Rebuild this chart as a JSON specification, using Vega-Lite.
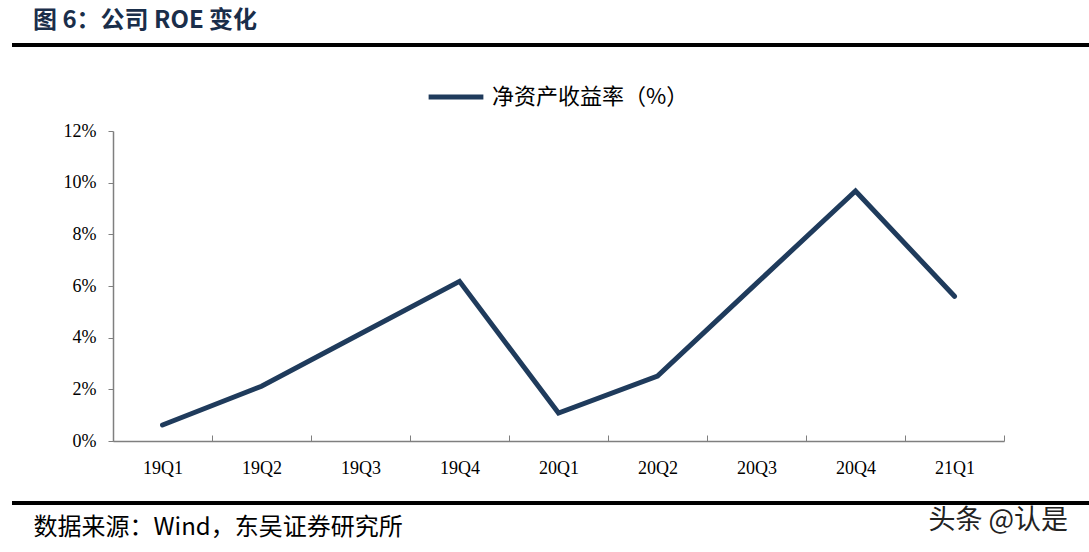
{
  "$schema": "https://vega.github.io/schema/vega-lite/v6.json",
  "autosize": "none",
  "width": 891,
  "height": 310,
  "padding": {"left": 113, "top": 131, "right": 85, "bottom": 111},
  "background": "white",
  "title": {
    "text": "图 6：公司 ROE 变化",
    "anchor": "start",
    "frame": "group",
    "dx": -80,
    "offset": 11,
    "font": "Noto Sans CJK SC",
    "fontSize": 24,
    "fontWeight": "bold",
    "color": "#1a2e4a"
  },
  "data": {
    "values": [
      {"quarter": "19Q1", "roe": 0.0062, "series": "净资产收益率（%）"},
      {"quarter": "19Q2", "roe": 0.0212, "series": "净资产收益率（%）"},
      {"quarter": "19Q3", "roe": 0.0415, "series": "净资产收益率（%）"},
      {"quarter": "19Q4", "roe": 0.0618, "series": "净资产收益率（%）"},
      {"quarter": "20Q1", "roe": 0.0108, "series": "净资产收益率（%）"},
      {"quarter": "20Q2", "roe": 0.0251, "series": "净资产收益率（%）"},
      {"quarter": "20Q3", "roe": 0.0610, "series": "净资产收益率（%）"},
      {"quarter": "20Q4", "roe": 0.0968, "series": "净资产收益率（%）"},
      {"quarter": "21Q1", "roe": 0.0560, "series": "净资产收益率（%）"}
    ]
  },
  "layer": [
    {
      "mark": {"type": "line", "strokeWidth": 5, "strokeCap": "round", "strokeJoin": "miter"},
      "encoding": {
        "x": {
          "field": "quarter",
          "type": "ordinal",
          "sort": null,
          "bandPosition": 0.5,
          "scale": {"type": "band", "paddingInner": 0, "paddingOuter": 0},
          "axis": {
            "title": "数据来源：Wind，东吴证券研究所",
            "titleFont": "Noto Sans CJK SC",
            "titleFontSize": 24,
            "titleFontWeight": "normal",
            "titleColor": "#000000",
            "titleAnchor": "start",
            "titleAlign": "left",
            "titleBaseline": "middle",
            "titleX": -80,
            "titleY": 86,
            "labelAngle": 0,
            "labelFont": "Liberation Serif",
            "labelFontSize": 18,
            "labelColor": "#000000",
            "labelPadding": 24,
            "tickBand": "extent",
            "tickSize": -6,
            "tickColor": "#7f7f7f",
            "domainColor": "#7f7f7f",
            "domainWidth": 1.5,
            "grid": false
          }
        },
        "y": {
          "field": "roe",
          "type": "quantitative",
          "scale": {"domain": [0, 0.12], "nice": false},
          "axis": {
            "values": [0, 0.02, 0.04, 0.06, 0.08, 0.1, 0.12],
            "format": ".0%",
            "title": "头条 @认是",
            "titleFont": "Noto Sans CJK SC",
            "titleFontSize": 27,
            "titleFontWeight": "normal",
            "titleColor": "#222222",
            "titleAngle": 0,
            "titleAlign": "left",
            "titleBaseline": "middle",
            "titleX": 815,
            "titleY": 389,
            "labelFont": "Liberation Serif",
            "labelFontSize": 18,
            "labelColor": "#000000",
            "labelPadding": 12,
            "tickSize": 5,
            "tickColor": "#7f7f7f",
            "domainColor": "#7f7f7f",
            "domainWidth": 1.5,
            "grid": false
          }
        },
        "color": {
          "field": "series",
          "type": "nominal",
          "scale": {"range": ["#1f3b5c"]},
          "legend": {
            "title": null,
            "orient": "none",
            "legendX": 313,
            "legendY": -64,
            "symbolType": "stroke",
            "symbolSize": 3000,
            "symbolStrokeWidth": 5,
            "labelFont": "Noto Sans CJK SC",
            "labelFontSize": 22,
            "labelLimit": 0,
            "labelColor": "#000000",
            "labelOffset": 6
          }
        }
      }
    },
    {
      "mark": {"type": "rule", "color": "#000000", "strokeWidth": 3, "clip": false},
      "encoding": {
        "x": {"value": -101},
        "x2": {"value": 976},
        "y": {"value": -86}
      }
    },
    {
      "mark": {"type": "rule", "color": "#000000", "strokeWidth": 3, "clip": false},
      "encoding": {
        "x": {"value": -101},
        "x2": {"value": 976},
        "y": {"value": 372}
      }
    }
  ],
  "config": {
    "view": {"stroke": null}
  }
}
